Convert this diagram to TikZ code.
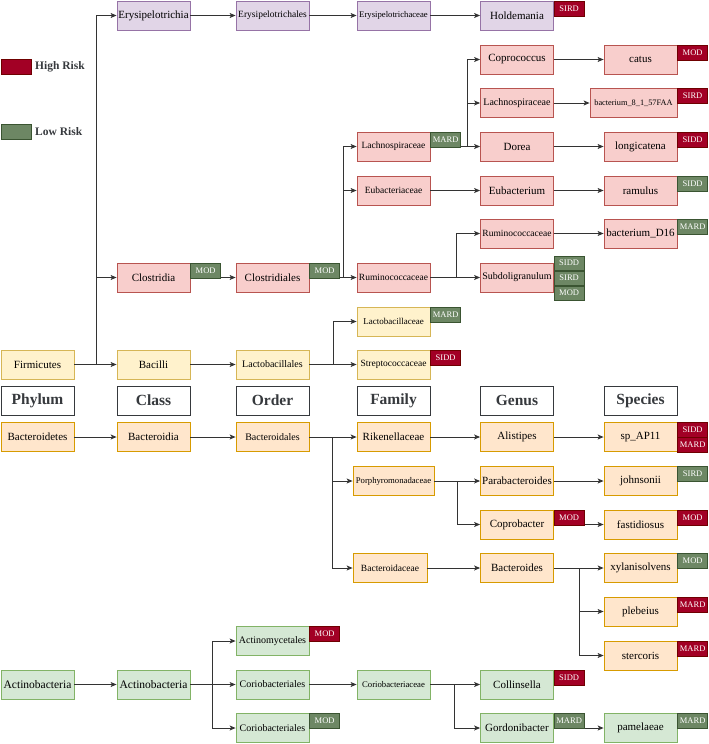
\documentclass[tikz,border=0pt]{standalone}
\usepackage{fontspec}
\setmainfont{Liberation Serif}
\usetikzlibrary{arrows.meta,positioning,calc}
\definecolor{purF}{HTML}{E1D5E7}\definecolor{purD}{HTML}{9673A6}
\definecolor{redF}{HTML}{F8CECC}\definecolor{redD}{HTML}{B85450}
\definecolor{yelF}{HTML}{FFF2CC}\definecolor{yelD}{HTML}{D6B656}
\definecolor{oraF}{HTML}{FFE6CC}\definecolor{oraD}{HTML}{D79B00}
\definecolor{grnF}{HTML}{D5E8D4}\definecolor{grnD}{HTML}{82B366}
\definecolor{hiR}{HTML}{A20025}\definecolor{hiRD}{HTML}{6F0000}
\definecolor{loG}{HTML}{6D8764}\definecolor{loGD}{HTML}{3A5431}
\definecolor{lineC}{HTML}{333333}
\definecolor{hdrD}{HTML}{36393D}
\tikzset{
  fsXI/.style={font=\fontsize{11}{12}\selectfont},
  fsX/.style={font=\fontsize{10}{11}\selectfont},
  fsIXh/.style={font=\fontsize{9.5}{10}\selectfont},
  fsIX/.style={font=\fontsize{9}{10}\selectfont},
  fsVIII/.style={font=\fontsize{8.7}{10}\selectfont},
  taxbox/.style={minimum width=73pt, minimum height=29pt, inner sep=0pt, line width=0.8pt, text=black, fsXI},
  purbox/.style={taxbox, fill=purF, draw=purD},
  redbox/.style={taxbox, fill=redF, draw=redD},
  yelbox/.style={taxbox, fill=yelF, draw=yelD},
  orabox/.style={taxbox, fill=oraF, draw=oraD},
  grnbox/.style={taxbox, fill=grnF, draw=grnD},
  hdrbox/.style={taxbox, fill=white, draw=hdrD, text=hdrD, font=\fontsize{15.5}{17}\selectfont\bfseries},
  badge/.style={minimum width=30pt, minimum height=15pt, inner sep=0pt, text=white, line width=0.5pt, anchor=north west, font=\fontsize{8.5}{9}\selectfont},
  hib/.style={badge, fill=hiR, draw=hiRD},
  lob/.style={badge, fill=loG, draw=loGD},
  conn/.style={draw=lineC, line width=0.9pt, -{Stealth[length=6pt,width=5pt,inset=1.5pt]}},
  plain/.style={draw=lineC, line width=0.9pt},
}
\begin{document}
\begin{tikzpicture}[x=1pt,y=-1pt]
\useasboundingbox (0,0) rectangle (709,744);
% legend
\node[fill=hiR, draw=hiRD, minimum width=30pt, minimum height=15pt, inner sep=0pt, anchor=north west] (lhi) at (1,59) {};
\node[anchor=west, inner sep=0pt, font=\fontsize{11.5}{12}\selectfont\bfseries, text=hdrD] (lhit) at (35,66.5) {High Risk};
\node[fill=loG, draw=loGD, minimum width=30pt, minimum height=15pt, inner sep=0pt, anchor=north west] (llo) at (1,124) {};
\node[anchor=west, inner sep=0pt, font=\fontsize{11.5}{12}\selectfont\bfseries, text=hdrD] (llot) at (35,131.5) {Low Risk};

% purple
\node[purbox] (ery1) at (153.5,15.5) {Erysipelotrichia};
\node[purbox, fsIXh] (ery2) at (272.5,15.5) {Erysipelotrichales};
\node[purbox, fsVIII] (ery3) at (393.5,15.5) {Erysipelotrichaceae};
\node[purbox] (hold) at (517,15.5) {Holdemania};

% red
\node[redbox] (clos) at (153.5,277.5) {Clostridia};
\node[redbox] (closo) at (272.5,277.5) {Clostridiales};
\node[redbox, fsIXh] (lachf) at (393.5,146.5) {Lachnospiraceae};
\node[redbox, fsIXh] (eubf) at (393.5,190.5) {Eubacteriaceae};
\node[redbox, fsIXh] (rumf) at (393.5,277.5) {Ruminococcaceae};
\node[redbox] (copro) at (517,59.5) {Coprococcus};
\node[redbox, fsX] (lachg) at (517,103) {Lachnospiraceae};
\node[redbox] (dorea) at (517,146.5) {Dorea};
\node[redbox] (eubg) at (517,190.5) {Eubacterium};
\node[redbox, fsIXh] (rumg) at (517,233.5) {Ruminococcaceae};
\node[redbox, fsX] (subd) at (517,277.5) {Subdoligranulum};
\node[redbox] (catus) at (640.5,59.5) {catus};
\node[redbox, font=\fontsize{8.3}{9}\selectfont, minimum width=87pt] (bact8) at (633.5,103) {bacterium\_8\_1\_57FAA};
\node[redbox] (longi) at (640.5,146.5) {longicatena};
\node[redbox] (ramul) at (640.5,190.5) {ramulus};
\node[redbox] (bd16) at (640.5,233.5) {bacterium\_D16};

% yellow
\node[yelbox] (firm) at (37.5,364.5) {Firmicutes};
\node[yelbox] (baci) at (153.5,364.5) {Bacilli};
\node[yelbox, fsX] (lacto) at (272.5,364.5) {Lactobacillales};
\node[yelbox, fsIX] (lactf) at (393.5,321.5) {Lactobacillaceae};
\node[yelbox, fsIXh] (strep) at (393.5,364.5) {Streptococcaceae};

% headers
\node[hdrbox] (hph) at (37.5,400.5) {Phylum};
\node[hdrbox] (hcl) at (153.5,400.5) {Class};
\node[hdrbox] (hor) at (272.5,400.5) {Order};
\node[hdrbox] (hfa) at (393.5,400.5) {Family};
\node[hdrbox] (hge) at (517,400.5) {Genus};
\node[hdrbox] (hsp) at (640.5,400.5) {Species};

% orange
\node[orabox] (bactd) at (37.5,437) {Bacteroidetes};
\node[orabox] (bactia) at (153.5,437) {Bacteroidia};
\node[orabox, fsX] (bactales) at (272.5,437) {Bacteroidales};
\node[orabox] (riken) at (393.5,437) {Rikenellaceae};
\node[orabox, fsVIII, minimum width=81pt] (porph) at (393.5,481) {Porphyromonadaceae};
\node[orabox, fsIXh, minimum width=74pt] (bactac) at (390,568) {Bacteroidaceae};
\node[orabox] (alis) at (517,437) {Alistipes};
\node[orabox] (parab) at (517,481) {Parabacteroides};
\node[orabox] (coprob) at (517,524.5) {Coprobacter};
\node[orabox] (bactes) at (517,568) {Bacteroides};
\node[orabox] (spap) at (640.5,437) {sp\_AP11};
\node[orabox] (johns) at (640.5,481) {johnsonii};
\node[orabox] (fastid) at (640.5,524.5) {fastidiosus};
\node[orabox] (xylan) at (640.5,568) {xylanisolvens};
\node[orabox] (plebe) at (640.5,611.5) {plebeius};
\node[orabox] (sterc) at (640.5,655.5) {stercoris};

% green
\node[grnbox, font=\fontsize{11.5}{12}\selectfont] (actp) at (37.5,684.5) {Actinobacteria};
\node[grnbox, font=\fontsize{11.5}{12}\selectfont] (actc) at (153.5,684.5) {Actinobacteria};
\node[grnbox, fsX] (actm) at (272.5,641) {Actinomycetales};
\node[grnbox, fsX] (cor1) at (272.5,684.5) {Coriobacteriales};
\node[grnbox, fsX] (cor2) at (272.5,728) {Coriobacteriales};
\node[grnbox, fsVIII] (corf) at (393.5,684.5) {Coriobacteriaceae};
\node[grnbox] (colli) at (517,684.5) {Collinsella};
\node[grnbox] (gord) at (517,728) {Gordonibacter};
\node[grnbox] (pame) at (640.5,728) {pamelaeae};

% trunk coordinates
\coordinate (t1) at (96,364.5);
\coordinate (t2) at (343,277.5);
\coordinate (t3) at (467,146.5);
\coordinate (t4) at (456,277.5);
\coordinate (t5) at (333,364.5);
\coordinate (t6) at (332,437);
\coordinate (t7) at (457,481);
\coordinate (t8) at (579,568);
\coordinate (t9) at (212,684.5);
\coordinate (t10) at (454,684.5);

% connectors
\draw[plain] (firm.east) -- (t1);
\draw[conn] (t1) |- (ery1.west);
\draw[conn] (t1) |- (clos.west);
\draw[conn] (t1) -- (baci.west);
\draw[conn] (ery1.east) -- (ery2.west);
\draw[conn] (ery2.east) -- (ery3.west);
\draw[conn] (ery3.east) -- (hold.west);

\draw[conn] (clos.east) -- (closo.west);
\draw[plain] (closo.east) -- (t2);
\draw[conn] (t2) |- (lachf.west);
\draw[conn] (t2) |- (eubf.west);
\draw[conn] (t2) -- (rumf.west);
\draw[plain] (lachf.east) -- (t3);
\draw[conn] (t3) |- (copro.west);
\draw[conn] (t3) |- (lachg.west);
\draw[conn] (t3) -- (dorea.west);
\draw[conn] (copro.east) -- (catus.west);
\draw[conn] (lachg.east) -- (bact8.west);
\draw[conn] (dorea.east) -- (longi.west);
\draw[conn] (eubf.east) -- (eubg.west);
\draw[conn] (eubg.east) -- (ramul.west);
\draw[plain] (rumf.east) -- (t4);
\draw[conn] (t4) |- (rumg.west);
\draw[conn] (t4) -- (subd.west);
\draw[conn] (rumg.east) -- (bd16.west);

\draw[conn] (baci.east) -- (lacto.west);
\draw[plain] (lacto.east) -- (t5);
\draw[conn] (t5) |- (lactf.west);
\draw[conn] (t5) -- (strep.west);

\draw[conn] (bactd.east) -- (bactia.west);
\draw[conn] (bactia.east) -- (bactales.west);
\draw[plain] (bactales.east) -- (t6);
\draw[conn] (t6) -- (riken.west);
\draw[conn] (t6) |- (porph.west);
\draw[conn] (t6) |- (bactac.west);
\draw[conn] (riken.east) -- (alis.west);
\draw[conn] (alis.east) -- (spap.west);
\draw[plain] (porph.east) -- (t7);
\draw[conn] (t7) -- (parab.west);
\draw[conn] (t7) |- (coprob.west);
\draw[conn] (parab.east) -- (johns.west);
\draw[conn] (coprob.east) -- (fastid.west);
\draw[conn] (bactac.east) -- (bactes.west);
\draw[plain] (bactes.east) -- (t8);
\draw[conn] (t8) -- (xylan.west);
\draw[conn] (t8) |- (plebe.west);
\draw[conn] (t8) |- (sterc.west);

\draw[conn] (actp.east) -- (actc.west);
\draw[plain] (actc.east) -- (t9);
\draw[conn] (t9) |- (actm.west);
\draw[conn] (t9) -- (cor1.west);
\draw[conn] (t9) |- (cor2.west);
\draw[conn] (cor1.east) -- (corf.west);
\draw[plain] (corf.east) -- (t10);
\draw[conn] (t10) -- (colli.west);
\draw[conn] (t10) |- (gord.west);
\draw[conn] (gord.east) -- (pame.west);

% badges
\node[hib] (holdb) at (hold.north east) {SIRD};
\node[lob] (closb) at (clos.north east) {MOD};
\node[lob] (closob) at (closo.north east) {MOD};
\node[lob] (lachfb) at (lachf.north east) {MARD};
\node[hib] (catusb) at (catus.north east) {MOD};
\node[hib] (bact8b) at (bact8.north east) {SIRD};
\node[hib] (longib) at (longi.north east) {SIDD};
\node[lob] (ramulb) at (ramul.north east) {SIDD};
\node[lob] (bd16b) at (bd16.north east) {MARD};
\node[lob, minimum height=14.5pt] (subdb1) at ([yshift=7pt]subd.north east) {SIDD};
\node[lob, minimum height=14.5pt] (subdb2) at (subdb1.south west) {SIRD};
\node[lob, minimum height=14.5pt] (subdb3) at (subdb2.south west) {MOD};
\node[lob] (lactfb) at (lactf.north east) {MARD};
\node[hib] (strepb) at (strep.north east) {SIDD};
\node[hib, minimum height=14.5pt] (spapb1) at (spap.north east) {SIDD};
\node[hib, minimum height=14.5pt] (spapb2) at (spapb1.south west) {MARD};
\node[lob] (johnsb) at (johns.north east) {SIRD};
\node[hib] (coprobb) at (coprob.north east) {MOD};
\node[hib] (fastidb) at (fastid.north east) {MOD};
\node[lob] (xylanb) at (xylan.north east) {MOD};
\node[hib] (plebeb) at (plebe.north east) {MARD};
\node[hib] (stercb) at (sterc.north east) {MARD};
\node[hib] (actmb) at (actm.north east) {MOD};
\node[lob] (cor2b) at (cor2.north east) {MOD};
\node[hib] (collib) at (colli.north east) {SIDD};
\node[lob] (gordb) at (gord.north east) {MARD};
\node[lob] (pameb) at (pame.north east) {MARD};
\end{tikzpicture}
\end{document}
